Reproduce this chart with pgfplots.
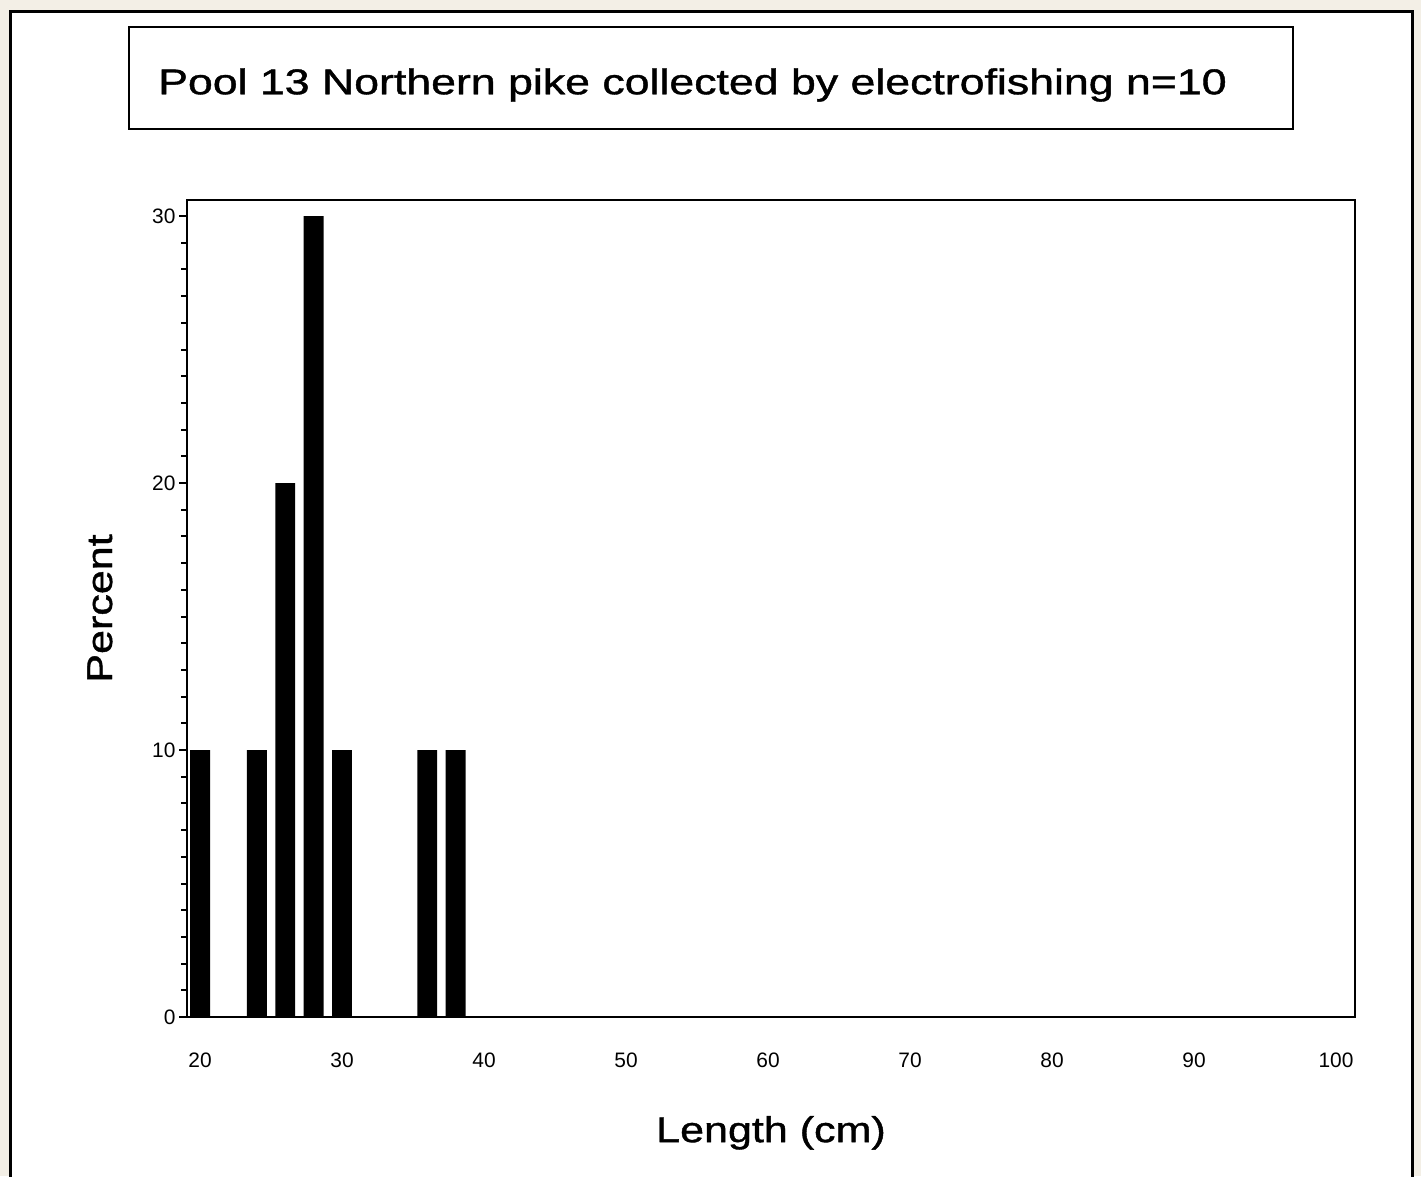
\documentclass[border=0pt]{standalone}
\usepackage{pgfplots}
\pgfplotsset{compat=1.18}
\usepackage{fontspec}
\setmainfont{Liberation Sans}
\definecolor{bgc}{RGB}{243,239,230}
\begin{document}
\begin{tikzpicture}[x=1bp,y=1bp]
\useasboundingbox (0,0) rectangle (1421,1176);
\clip (0,0) rectangle (1421,1176);
\fill[bgc] (0,0) rectangle (1421,1176);
\draw[line width=3bp, fill=white] (10.5,-10) rectangle (1412.5,1164);
\draw[line width=2bp] (129,1149) rectangle (1293,1047);
\node[anchor=west, inner sep=0pt, font=\fontsize{36}{40}\selectfont\addfontfeature{FakeBold=1}] at (158,1091) {\scalebox{1.245}[1]{Pool 13 Northern pike collected by electrofishing n=10}};
\begin{axis}[
  at={(187bp,159bp)}, anchor=south west, scale only axis,
  width=1168bp, height=817bp,
  xmin=19.08, xmax=101.34, ymin=0, ymax=30.6,
  axis line style={line width=2bp},
  xtick={20,30,...,100},
  ytick={0,10,20,30},
  minor y tick num=9,
  tick align=outside,
  xtick pos=bottom, ytick pos=left,
  major tick length=8bp, minor tick length=6bp,
  tick style={line width=2bp, black},
  x tick style={draw=none},
  ticklabel style={font=\fontsize{21}{22}\selectfont},
  xticklabel style={yshift=-24bp},
  /pgf/number format/assume math mode=true,
  xlabel={\scalebox{1.2}[1]{Length (cm)}},
  ylabel={\scalebox{1.2}[1]{Percent}},
  label style={font=\fontsize{36}{40}\selectfont\addfontfeature{FakeBold=1}},
  xlabel style={yshift=-42bp},
  ylabel style={yshift=33bp},
]
\addplot[ybar, bar width=1.4, fill=black, draw=none] coordinates {(20,10) (24,10) (26,20) (28,30) (30,10) (36,10) (38,10)};
\end{axis}
\end{tikzpicture}
\end{document}
